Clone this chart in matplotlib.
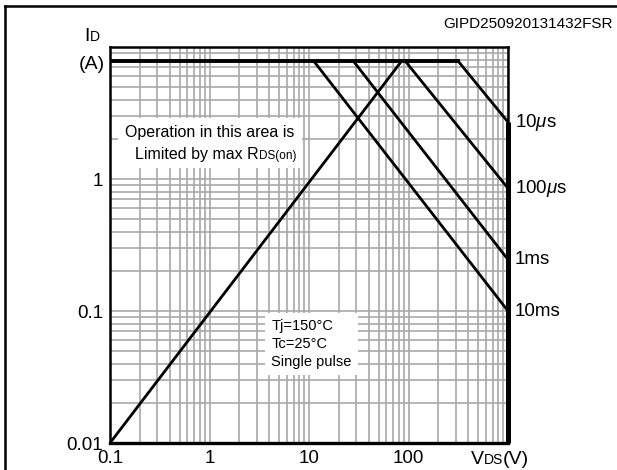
import matplotlib.pyplot as plt
from matplotlib.lines import Line2D
from matplotlib.patches import Rectangle

plt.rcParams["font.family"] = ["Liberation Sans", "DejaVu Sans"]
plt.rcParams["mathtext.fontset"] = "custom"
plt.rcParams["mathtext.rm"] = "Liberation Sans"
plt.rcParams["mathtext.it"] = "Liberation Sans:italic"

# axis ranges and ticks
X_TICKS = [0.1, 1, 10, 100, 1000]
X_TICK_LABELS = ["0.1", "1", "10", "100", ""]
Y_TICKS = [0.01, 0.1, 1, 10]
Y_TICK_LABELS = ["0.01", "0.1", "1", ""]

# current limit and Rds(on) limit line
ID_MAX = 7.8
RDS_V = [0.1, 85]
RDS_I = [0.01, 7.8]

# pulse limit lines: knee voltage on the ID_MAX line, current at VDS = 1000 V
PULSE_LABELS = ["10$\\mu$s", "100$\\mu$s", "1ms", "10ms"]
PULSE_KNEE_V = [316, 93, 28, 11.2]
PULSE_END_I = [2.7, 0.85, 0.245, 0.1]
V_END = 1000

fig = plt.figure(figsize=(6.17, 4.70), dpi=100)
ax = fig.add_axes([110 / 617, 27 / 470, 398 / 617, 396 / 470])
ax.set_xscale("log")
ax.set_yscale("log")
ax.set_xlim(0.1, 1000)
ax.set_ylim(0.01, 10)

ax.grid(which="both", color="#a8a8a8", lw=1.2)
ax.set_axisbelow(True)
ax.set_xticks(X_TICKS)
ax.set_xticklabels(X_TICK_LABELS)
ax.set_yticks(Y_TICKS)
ax.set_yticklabels(Y_TICK_LABELS)
ax.tick_params(which="both", length=0, labelsize=13.5, pad=5)
for side in ["left", "top", "right"]:
    ax.spines[side].set_linewidth(1.8)
ax.spines["bottom"].set_linewidth(2.4)

# limit lines
ax.plot([RDS_V[0], PULSE_KNEE_V[0]], [ID_MAX, ID_MAX], color="black", lw=2.8)
ax.plot(RDS_V, RDS_I, color="black", lw=2)
for knee, i_end in zip(PULSE_KNEE_V, PULSE_END_I):
    ax.plot([knee, V_END], [ID_MAX, i_end], color="black", lw=2)
ax.plot([V_END, V_END], [PULSE_END_I[0], Y_TICKS[0]], color="black", lw=3.6,
        solid_capstyle="butt", clip_on=False)

for label, i_end in zip(PULSE_LABELS, PULSE_END_I):
    ax.annotate(label, xy=(V_END, i_end), xytext=(5, 0), textcoords="offset points",
                fontsize=13.5, va="center", ha="left", annotation_clip=False)


def chain_text(parts, x, y, coords, zorder=3):
    # place text pieces of different sizes one after another on one baseline
    prev = None
    for txt, size in parts:
        if prev is None:
            prev = ax.annotate(txt, xy=(x, y), xycoords=coords, fontsize=size,
                               ha="left", va="baseline", annotation_clip=False, zorder=zorder)
        else:
            prev = ax.annotate(txt, xy=(1, y), xycoords=(prev, coords), fontsize=size,
                               ha="left", va="baseline", annotation_clip=False, zorder=zorder)
    return prev


# note about the Rds(on) region, on a white patch over the grid
ax.add_patch(Rectangle((8 / 398, 275 / 396), 184 / 398, 50 / 396, transform=ax.transAxes,
                       facecolor="white", edgecolor="none", zorder=2.5))
ax.text(0.251, 0.773, "Operation in this area is", transform=ax.transAxes,
        fontsize=11.5, ha="center", va="baseline", zorder=3)
chain_text([("Limited by max R", 11.5), ("DS(on)", 8.5)], 0.063, 0.716, "axes fraction")

box = dict(facecolor="white", edgecolor="none", boxstyle="square,pad=0.45")
ax.text(0.405, 0.25, "Tj=150\u00b0C\nTc=25\u00b0C\nSingle pulse", transform=ax.transAxes,
        fontsize=10.5, ha="left", va="center", linespacing=1.35, bbox=box)

# axis titles
chain_text([("I", 14), ("D", 10)], -0.065, 1.015, "axes fraction")
ax.text(-0.013, 0.955, "(A)", transform=ax.transAxes, fontsize=14, ha="right", va="center")
chain_text([("V", 14), ("DS", 10), ("(V)", 14)], 0.907, -0.052, "axes fraction")

fig.text(0.993, 0.95, "GIPD250920131432FSR", fontsize=11, ha="right", va="center")

# outer frame of the figure
fig.add_artist(Line2D([5 / 617, 1.0], [1 - 6 / 470, 1 - 6 / 470], color="black", lw=1.8,
                      transform=fig.transFigure))
fig.add_artist(Line2D([5 / 617, 5 / 617], [0.0, 1 - 6 / 470], color="black", lw=1.8,
                      transform=fig.transFigure))

fig.savefig("out.png", dpi=100)
